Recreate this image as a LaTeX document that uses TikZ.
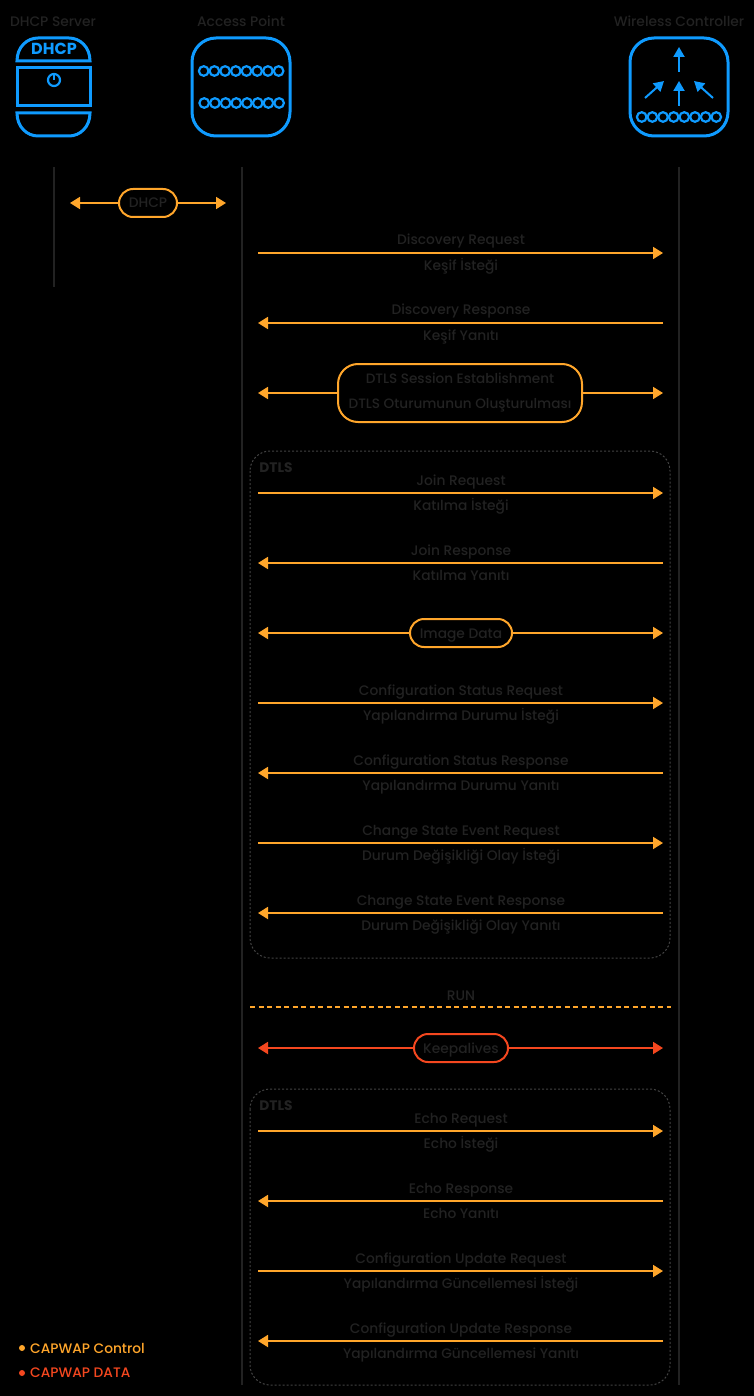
\documentclass[tikz,border=0pt]{standalone}
\usepackage{fontspec}
\setmainfont{Poppins Medium}[BoldFont=Poppins Bold]
\usetikzlibrary{arrows.meta}

\definecolor{capblue}{HTML}{0F9BFF}
\definecolor{caporange}{HTML}{FFA62B}
\definecolor{capred}{HTML}{F4471F}
\definecolor{capink}{HTML}{222222}

\tikzset{
  flow/.style={draw=caporange,line width=1.8pt,-{Triangle[length=10pt,width=12pt]}},
  pill/.style={draw=caporange,line width=2pt,rounded corners=14pt,text=capink,font=\fontsize{13.8}{16}\selectfont,align=center},
  msg/.style={text=capink,font=\fontsize{13.8}{16}\selectfont,text height=10pt,text depth=0pt},
  head/.style={text=capink,font=\fontsize{13.8}{16}\selectfont,text height=10pt,text depth=0pt},
  icon/.style={draw=capblue,line width=3pt},
  bead/.style={draw=capblue,line width=2.2pt},
  lifeline/.style={draw=capink,line width=1.4pt},
  zone/.style={draw=capink!85,line width=1pt,dash pattern=on 2pt off 2pt,rounded corners=20pt}
}

\begin{document}
\begin{tikzpicture}[x=1pt,y=-1pt]

\fill[black] (0,0) rectangle (754,1396);
\useasboundingbox (0,0) rectangle (754,1396);

% column titles
\node[head] (srv) at (53,22) {DHCP Server};
\node[head] (ap) at (241,22) {Access Point};
\node[head] (wlc) at (679,22) {Wireless Controller};

% dhcp server icon
\draw[icon] (17,61) .. controls (17,47) and (27,38) .. (38,38) -- (69,38) .. controls (80,38) and (90,47) .. (90,61) -- cycle;
\draw[icon] (17,68) rectangle (90,106);
\draw[icon] (17,113) -- (90,113) .. controls (90,127) and (80,136) .. (69,136) -- (38,136) .. controls (27,136) and (17,127) .. (17,113) -- cycle;
\node[text=capblue,font=\bfseries\fontsize{16}{18}\selectfont,text height=11pt,text depth=0pt] (srvtag) at (54,49) {DHCP};
\draw[bead] (54,80) circle (6);
\draw[bead] (54,74) -- (54,80);

% access point icon
\draw[icon,rounded corners=24pt] (192,38) rectangle (290,136);
\foreach \n in {0,...,7} {
  \draw[bead] ({203.7+10.7*\n},71) circle (4.8);
  \draw[bead] ({204.2+10.7*\n},103) circle (4.8);
}

% controller icon
\draw[icon,rounded corners=24pt] (630,38) rectangle (728,136);
\foreach \n in {0,...,7} {
  \draw[bead] ({641.7+10.65*\n},117) circle (4.8);
}
\draw[draw=capblue,line width=2pt,-{Triangle[length=10pt,width=11pt]}] (679,72) -- (679,47);
\draw[draw=capblue,line width=2pt,-{Triangle[length=10pt,width=11pt]}] (679,106) -- (679,81);
\draw[draw=capblue,line width=2pt,-{Triangle[length=10pt,width=11pt]}] (645,98) -- (664,81);
\draw[draw=capblue,line width=2pt,-{Triangle[length=10pt,width=11pt]}] (713,98) -- (694,81);

% lifelines
\draw[lifeline] (54,167) -- (54,287);
\draw[lifeline] (242,167) -- (242,1385);
\draw[lifeline] (679,167) -- (679,1385);

% dtls zones
\draw[zone] (250,451) rectangle (670,958);
\draw[zone] (250,1089) rectangle (670,1385);
\node[text=capink,font=\bfseries\fontsize{13.8}{16}\selectfont,text height=10pt,text depth=0pt] (zonea) at (276,467) {DTLS};
\node[text=capink,font=\bfseries\fontsize{13.8}{16}\selectfont,text height=10pt,text depth=0pt] (zoneb) at (276,1105) {DTLS};

% messages
\foreach \i/\y/\from/\to/\msgtop/\msgbot in {
  1/253/a/w/Discovery Request/Keşif İsteği,
  2/323/w/a/Discovery Response/Keşif Yanıtı,
  3/493/a/w/Join Request/Katılma İsteği,
  4/563/w/a/Join Response/Katılma Yanıtı,
  5/703/a/w/Configuration Status Request/Yapılandırma Durumu İsteği,
  6/773/w/a/Configuration Status Response/Yapılandırma Durumu Yanıtı,
  7/843/a/w/Change State Event Request/Durum Değişikliği Olay İsteği,
  8/913/w/a/Change State Event Response/Durum Değişikliği Olay Yanıtı,
  9/1131/a/w/Echo Request/Echo İsteği,
  10/1201/w/a/Echo Response/Echo Yanıtı,
  11/1271/a/w/Configuration Update Request/Yapılandırma Güncellemesi İsteği,
  12/1341/w/a/Configuration Update Response/Yapılandırma Güncellemesi Yanıtı
} {
  \coordinate (a\i) at (258,\y);
  \coordinate (w\i) at (663,\y);
  \draw[flow] (\from\i) -- (\to\i);
  \node[msg] (up\i) at (461,\y-13) {\msgtop};
  \node[msg] (lo\i) at (461,\y+12.5) {\msgbot};
}

% exchanges with a label box
\node[pill,minimum width=58pt,minimum height=28pt,inner sep=0pt,text height=10pt,text depth=0pt] (dhcp) at (148,203) {DHCP};
\coordinate (dhcpl) at (70,203);
\coordinate (dhcpr) at (226,203);
\draw[flow] (dhcp) -- (dhcpl);
\draw[flow] (dhcp) -- (dhcpr);

\node[pill,rounded corners=20pt,minimum width=244pt,minimum height=58pt,inner sep=0pt,font=\fontsize{13.6}{25}\selectfont] (sess) at (460,393) {\raisebox{1pt}{DTLS Session Establishment}\\\raisebox{1pt}{DTLS Oturumunun Oluşturulması}};
\coordinate (sessl) at (258,393);
\coordinate (sessr) at (663,393);
\draw[flow] (sess) -- (sessl);
\draw[flow] (sess) -- (sessr);

\node[pill,minimum width=102pt,minimum height=28pt,inner sep=0pt,text height=10pt,text depth=0pt] (image) at (461,633) {Image Data};
\coordinate (imagel) at (258,633);
\coordinate (imager) at (663,633);
\draw[flow] (image) -- (imagel);
\draw[flow] (image) -- (imager);

% run phase
\node[msg] (run) at (461,995) {RUN};
\coordinate (runl) at (250,1007);
\coordinate (runr) at (671,1007);
\draw[draw=caporange,line width=1.8pt,dash pattern=on 5pt off 3.5pt] (runl) -- (runr);

\node[pill,draw=capred,minimum width=94pt,minimum height=28pt,inner sep=0pt,text height=10pt,text depth=0pt] (keep) at (461,1048) {Keepalives};
\coordinate (keepl) at (258,1048);
\coordinate (keepr) at (663,1048);
\draw[flow,draw=capred] (keep) -- (keepl);
\draw[flow,draw=capred] (keep) -- (keepr);

% legend
\fill[caporange] (22,1348) circle (3);
\fill[capred] (22,1373) circle (3);
\node[anchor=west,inner sep=0pt,text=caporange,font=\fontsize{13.75}{15}\selectfont] (ctrl) at (30,1348) {CAPWAP Control};
\node[anchor=west,inner sep=0pt,text=capred,font=\fontsize{13.75}{15}\selectfont] (data) at (30,1373) {CAPWAP DATA};

\end{tikzpicture}
\end{document}
